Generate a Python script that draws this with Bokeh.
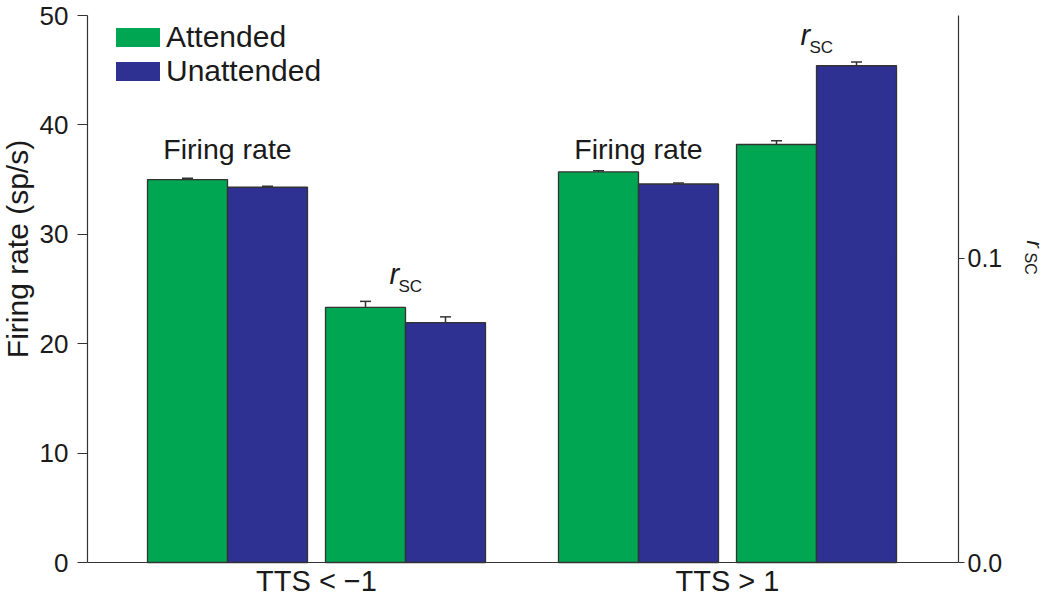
import math
from bokeh.plotting import figure
from bokeh.models import (Range1d, LinearAxis, FixedTicker, NumeralTickFormatter,
                          ColumnDataSource, Whisker, TeeHead, Legend, LegendItem, Label)
from bokeh.core.properties import value
from bokeh.embed import file_html
from bokeh.resources import INLINE

# ---------------- data ----------------
groups = ["TTS < \u22121", "TTS > 1"]
series = ["Attended", "Unattended"]
firing_attended = [35.0, 35.7]
firing_unattended = [34.3, 34.6]
firing_attended_err = [0.12, 0.10]
firing_unattended_err = [0.10, 0.10]
rsc_attended = [0.0839, 0.1375]
rsc_unattended = [0.0789, 0.1634]
rsc_attended_err = [0.0020, 0.0012]
rsc_unattended_err = [0.0019, 0.0012]
left_ticks = [0, 10, 20, 30, 40, 50]
right_ticks = [0.0, 0.1]

# ---------------- style / layout ----------------
GREEN = "#00a651"
BLUE = "#2e3192"
EDGE = "#333333"
TXT = "#1a1a1a"
FONT = "Liberation Sans"
W, H = 1048, 604
ZERO_PX = 562               # pixel row of the zero line
TOP_PX = 15                 # pixel row of the top of the axes
PX = 80.0                   # pixels per x unit (one bar)
LEFT_AX_PX, RIGHT_AX_PX = 87, 958
GROUP_STEP = 5.1375
PAIR_OFF = 1.1125
BAR_W = 1.0
RSC_TOP = 0.17993           # value of the right axis at the top of the axes

x_start = -316 / PX
x_end = x_start + W / PX
left_loc = x_start + LEFT_AX_PX / PX
right_loc = x_start + RIGHT_AX_PX / PX
py = (ZERO_PX - TOP_PX) / left_ticks[-1]
pr = (ZERO_PX - TOP_PX) / RSC_TOP
y_start, y_end = -(H - ZERO_PX) / py, ZERO_PX / py
r_start, r_end = -(H - ZERO_PX) / pr, ZERO_PX / pr

p = figure(width=W, height=H, x_range=Range1d(x_start, x_end), y_range=Range1d(y_start, y_end),
           output_backend="svg", toolbar_location=None,
           min_border_left=0, min_border_right=0, min_border_top=0, min_border_bottom=0)
p.extra_y_ranges = {"rsc": Range1d(r_start, r_end)}
p.outline_line_color = None
p.xgrid.visible = False
p.ygrid.visible = False
p.background_fill_color = "white"
p.border_fill_color = "white"

centers = [i * GROUP_STEP for i in range(len(groups))]
fr_pair = [c - PAIR_OFF for c in centers]
rs_pair = [c + PAIR_OFF for c in centers]

fr_src = ColumnDataSource(dict(
    x=[c - BAR_W / 2 for c in fr_pair] + [c + BAR_W / 2 for c in fr_pair],
    top=firing_attended + firing_unattended,
    err=firing_attended_err + firing_unattended_err,
    color=[GREEN] * len(groups) + [BLUE] * len(groups),
))
fr_src.data["upper"] = [t + e for t, e in zip(fr_src.data["top"], fr_src.data["err"])]
fr_src.data["lower"] = [t - e for t, e in zip(fr_src.data["top"], fr_src.data["err"])]

rs_src = ColumnDataSource(dict(
    x=[c - BAR_W / 2 for c in rs_pair] + [c + BAR_W / 2 for c in rs_pair],
    top=rsc_attended + rsc_unattended,
    err=rsc_attended_err + rsc_unattended_err,
    color=[GREEN] * len(groups) + [BLUE] * len(groups),
))
rs_src.data["upper"] = [t + e for t, e in zip(rs_src.data["top"], rs_src.data["err"])]
rs_src.data["lower"] = [t - e for t, e in zip(rs_src.data["top"], rs_src.data["err"])]

# fills (also used for legend swatches) and outlines drawn separately
fr_fill = p.vbar(x="x", top="top", bottom=0, width=BAR_W, source=fr_src,
                 fill_color="color", line_color=None)
p.vbar(x="x", top="top", bottom=0, width=BAR_W, source=fr_src, fill_color=None,
       line_color=EDGE, line_width=1.3)
p.vbar(x="x", top="top", bottom=0, width=BAR_W, source=rs_src, fill_color="color",
       line_color=EDGE, line_width=1.3, y_range_name="rsc")

for src, rng in ((fr_src, "default"), (rs_src, "rsc")):
    w = Whisker(source=src, base="x", upper="upper", lower="lower",
                line_color=EDGE, line_width=1.5, y_range_name=rng,
                upper_head=TeeHead(size=11, line_color=EDGE, line_width=1.5),
                lower_head=TeeHead(size=11, line_color=EDGE, line_width=1.5))
    p.add_layout(w)

# "Firing rate" labels
fr_label_y = max(firing_attended + firing_unattended) + 2.06
p.text(x=fr_pair, y=[fr_label_y] * len(groups), text=["Firing rate"] * len(groups),
       text_align="center", text_baseline="alphabetic", text_font=value(FONT),
       text_font_size="28.5px", text_color=TXT)

# r_SC labels above rsc bars
rs_tops = [max(rsc_attended[i] + rsc_attended_err[i], rsc_unattended[i] + rsc_unattended_err[i])
           for i in range(len(groups))]
p.text(x=rs_pair, y=rs_tops, text=["r"] * len(groups), x_offset=-16, y_offset=-27,
       text_align="left", text_baseline="alphabetic", text_font=value(FONT),
       text_font_style="italic", text_font_size="29px", text_color=TXT, y_range_name="rsc")
p.text(x=rs_pair, y=rs_tops, text=["SC"] * len(groups), x_offset=-7, y_offset=-15,
       text_align="left", text_baseline="alphabetic", text_font=value(FONT),
       text_font_size="17px", text_color=TXT, y_range_name="rsc")

# ---------------- axes ----------------
yl = p.yaxis[0]
yl.fixed_location = left_loc
yl.bounds = (left_ticks[0], left_ticks[-1])
yl.ticker = FixedTicker(ticks=left_ticks)
yl.axis_label = None
yl.major_label_text_font = FONT
yl.major_label_text_font_size = "26px"
yl.major_label_text_color = TXT
yl.major_label_standoff = 9
yl.major_tick_out = 10
yl.major_tick_in = 0
yl.minor_tick_out = 0
yl.minor_tick_in = 0
yl.axis_line_color = EDGE
yl.major_tick_line_color = EDGE
yl.axis_line_width = 1.2
yl.major_tick_line_width = 1.2

yr = LinearAxis(y_range_name="rsc", ticker=FixedTicker(ticks=right_ticks),
                formatter=NumeralTickFormatter(format="0.0"),
                fixed_location=right_loc, bounds=(0, RSC_TOP))
yr.axis_label = None
yr.major_label_text_font = FONT
yr.major_label_text_font_size = "25px"
yr.major_label_text_color = TXT
yr.major_label_standoff = 3
yr.major_tick_out = 6
yr.major_tick_in = 0
yr.minor_tick_out = 0
yr.minor_tick_in = 0
yr.axis_line_color = EDGE
yr.major_tick_line_color = EDGE
yr.axis_line_width = 1.2
yr.major_tick_line_width = 1.2
p.add_layout(yr, "right")

xb = p.xaxis[0]
xb.fixed_location = 0
xb.bounds = (left_loc, right_loc)
xb.axis_label = None
xb.ticker = FixedTicker(ticks=centers)
xb.major_label_overrides = {c: g for c, g in zip(centers, groups)}
xb.major_label_text_font = FONT
xb.major_label_text_font_size = "29px"
xb.major_label_text_color = TXT
xb.major_label_standoff = 2
xb.major_tick_out = 0
xb.major_tick_in = 0
xb.minor_tick_out = 0
xb.minor_tick_in = 0
xb.axis_line_color = EDGE
xb.axis_line_width = 1.2

# axis titles
p.add_layout(Label(x=left_loc, y=left_ticks[-1] / 2, text="Firing rate (sp/s)",
                   x_offset=-70, y_offset=40, angle=math.pi / 2, text_align="center",
                   text_baseline="alphabetic", text_font=FONT, text_font_size="30px",
                   text_color=TXT))
p.add_layout(Label(x=right_loc, y=right_ticks[1], y_range_name="rsc", text="r",
                   x_offset=76, y_offset=18, angle=-math.pi / 2, text_align="left",
                   text_baseline="alphabetic", text_font=FONT, text_font_style="italic",
                   text_font_size="22px", text_color=TXT))
p.add_layout(Label(x=right_loc, y=right_ticks[1], y_range_name="rsc", text="SC",
                   x_offset=72, y_offset=6, angle=-math.pi / 2, text_align="left",
                   text_baseline="alphabetic", text_font=FONT,
                   text_font_size="16px", text_color=TXT))

# ---------------- legend ----------------
legend = Legend(items=[LegendItem(label=series[0], renderers=[fr_fill], index=0),
                       LegendItem(label=series[1], renderers=[fr_fill], index=len(groups))],
                location=(110, 474 + H - ZERO_PX), padding=0, spacing=0, margin=0,
                glyph_width=55, glyph_height=24, label_standoff=1,
                label_text_font=FONT, label_text_font_size="30px", label_text_color=TXT,
                border_line_color=None, background_fill_alpha=0)
p.add_layout(legend)

open("out.html", "w").write(file_html(p, INLINE))
